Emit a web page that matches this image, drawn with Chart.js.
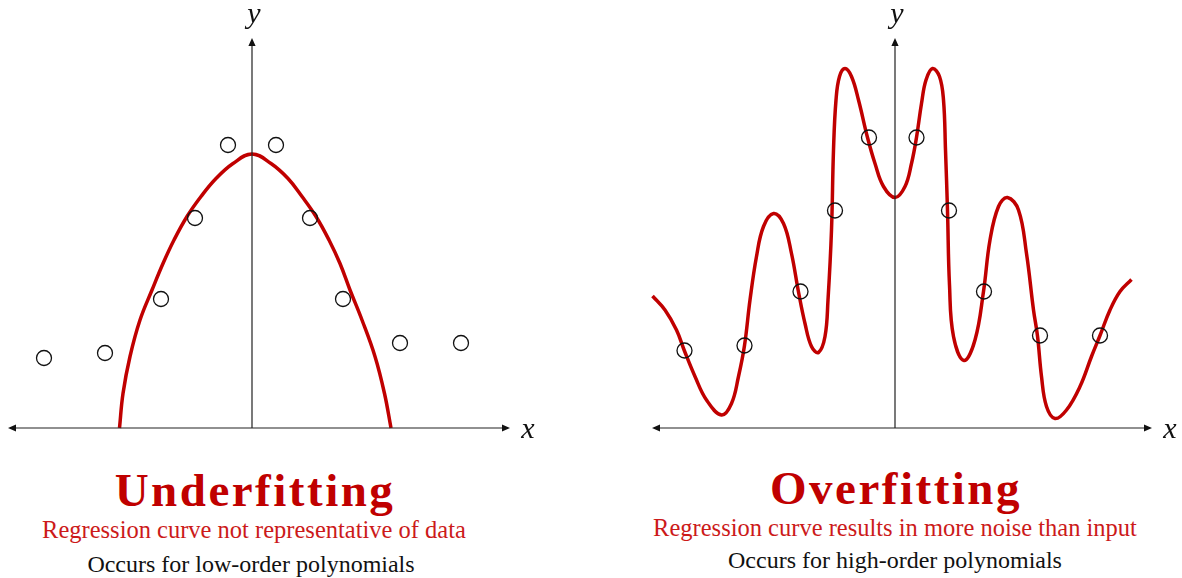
<!DOCTYPE html>
<html>
<head>
<meta charset="utf-8">
<script src="https://cdn.jsdelivr.net/npm/chart.js@4"></script>
<style>
  body { margin: 0; background: #fff; width: 1182px; height: 578px; position: relative; overflow: hidden; font-family: "Liberation Serif", serif; }
  canvas { position: absolute; top: 0; }
  #under { left: 0; }
  #over { left: 591px; }
  .t { position: absolute; transform: translateX(-50%); white-space: nowrap; line-height: 1; }
  .big { font-weight: bold; font-size: 47px; color: #c00000; letter-spacing: 2.5px; }
  .sub { font-size: 24.5px; color: #cc1a1a; }
  .note { font-size: 24px; color: #111; }
</style>
</head>
<body>
<canvas id="under" width="560" height="445"></canvas>
<canvas id="over" width="591" height="445"></canvas>

<div class="t big" style="left:255px; top:467px">Underfitting</div>
<div class="t sub" style="left:254px; top:518px">Regression curve not representative of data</div>
<div class="t note" style="left:251px; top:552px">Occurs for low-order polynomials</div>

<div class="t big" style="left:896px; top:465px">Overfitting</div>
<div class="t sub" style="left:895px; top:516px">Regression curve results in more noise than input</div>
<div class="t note" style="left:895px; top:548px">Occurs for high-order polynomials</div>

<script>
// underfitting panel: observed points and low-order fit
const underPointX = [-4.16, -2.94, -1.82, -1.14, -0.48, 0.48, 1.16, 1.82, 2.96, 4.18];
const underPointY = [1.40, 1.50, 2.58, 4.20, 5.66, 5.66, 4.20, 2.58, 1.70, 1.70];
const underCurveX = [-2.65, -2.58, -2.44, -2.24, -2.00, -1.78, -1.56, -1.30, -1.02, -0.72, -0.38, 0,
  0.38, 0.72, 1.00, 1.28, 1.54, 1.76, 1.96, 2.20, 2.46, 2.65, 2.78];
const underCurveY = [0, 0.69, 1.43, 2.16, 2.76, 3.29, 3.76, 4.23, 4.63, 4.99, 5.29, 5.48,
  5.29, 4.99, 4.63, 4.23, 3.76, 3.29, 2.76, 2.16, 1.43, 0.69, 0];

// overfitting panel: observed points and high-order fit
const overPointX = [-4.21, -3.01, -1.89, -1.20, -0.52, 0.43, 1.08, 1.78, 2.90, 4.10];
const overPointY = [1.55, 1.65, 2.73, 4.35, 5.81, 5.81, 4.35, 2.73, 1.85, 1.85];
const overCurveX = [-4.85, -4.60, -4.37, -4.21, -4.00, -3.77, -3.47, -3.27, -3.13, -3.01, -2.90, -2.77,
  -2.63, -2.43, -2.23, -2.07, -1.93, -1.80, -1.67, -1.53, -1.40, -1.34, -1.27, -1.23, -1.18, -1.11,
  -1.00, -0.87, -0.73, -0.55, -0.40, -0.23, 0, 0.20, 0.33, 0.43, 0.53, 0.62, 0.75, 0.89, 0.97,
  1.01, 1.05, 1.09, 1.17, 1.38, 1.60, 1.77, 1.90, 2.07, 2.25, 2.47, 2.63, 2.77, 2.85, 2.93,
  3.03, 3.20, 3.43, 3.70, 3.93, 4.10, 4.30, 4.50, 4.73];
const overCurveY = [2.64, 2.36, 1.96, 1.54, 1.03, 0.56, 0.26, 0.49, 1.03, 1.65, 2.56, 3.43,
  4.03, 4.29, 4.09, 3.49, 2.72, 2.09, 1.63, 1.51, 1.83, 2.56, 3.96, 5.56, 6.56, 7.03,
  7.19, 7.03, 6.56, 5.81, 5.29, 4.83, 4.61, 4.83, 5.29, 5.81, 6.49, 6.96, 7.19, 7.03, 6.56,
  5.56, 4.35, 2.86, 1.83, 1.35, 1.76, 2.73, 3.76, 4.43, 4.61, 4.36, 3.49, 2.36, 1.84, 1.03,
  0.43, 0.19, 0.36, 0.83, 1.43, 1.85, 2.36, 2.73, 2.97];

const axisLabels = ['x', 'y'];

function pairs(xs, ys) {
  return xs.map((x, i) => ({ x: x, y: ys[i] }));
}

// draws the two arrowed axes through the origin plus the x / y labels
const arrowAxes = {
  id: 'arrowAxes',
  afterDatasetsDraw(chart, args, opts) {
    const ctx = chart.ctx;
    const sx = chart.scales.x, sy = chart.scales.y;
    const ox = sx.getPixelForValue(0), oy = sy.getPixelForValue(0);
    const xl = sx.getPixelForValue(opts.xFrom), xr = sx.getPixelForValue(opts.xTo);
    const yt = sy.getPixelForValue(opts.yTo);
    const len = 8, hw = 3.6;
    ctx.save();
    ctx.strokeStyle = '#222';
    ctx.fillStyle = '#111';
    ctx.lineWidth = 1.2;
    ctx.beginPath();
    ctx.moveTo(xl + 2, oy); ctx.lineTo(xr - 2, oy);
    ctx.moveTo(ox, oy); ctx.lineTo(ox, yt + 2);
    ctx.stroke();
    ctx.beginPath();
    ctx.moveTo(xl, oy); ctx.lineTo(xl + len, oy - hw); ctx.lineTo(xl + len, oy + hw); ctx.closePath();
    ctx.moveTo(xr, oy); ctx.lineTo(xr - len, oy - hw); ctx.lineTo(xr - len, oy + hw); ctx.closePath();
    ctx.moveTo(ox, yt); ctx.lineTo(ox - hw, yt + len); ctx.lineTo(ox + hw, yt + len); ctx.closePath();
    ctx.fill();
    ctx.font = 'italic 30px "Liberation Serif", serif';
    ctx.textAlign = 'center';
    ctx.textBaseline = 'alphabetic';
    ctx.fillText(axisLabels[0], xr + 18, oy + 10);
    ctx.fillText(axisLabels[1], ox + 2, yt - 15);
    ctx.restore();
  }
};

function makePanel(id, pts, curve, xMin, xMax, axisEnds) {
  return new Chart(document.getElementById(id), {
    type: 'scatter',
    data: {
      datasets: [{
        data: pts,
        pointStyle: 'circle',
        pointRadius: 7.5,
        pointBorderWidth: 1.3,
        pointBorderColor: '#111',
        pointBackgroundColor: 'rgba(0,0,0,0)',
        showLine: false
      }, {
        data: curve,
        showLine: true,
        tension: 0.4,
        borderColor: '#c00000',
        borderWidth: 3.5,
        pointRadius: 0,
        fill: false
      }]
    },
    options: {
      responsive: false,
      animation: false,
      events: [],
      layout: { padding: 0, autoPadding: false },
      scales: {
        x: { type: 'linear', min: xMin, max: xMax, display: false },
        y: { type: 'linear', min: -0.34, max: 8.56, display: false }
      },
      plugins: {
        legend: { display: false },
        tooltip: { enabled: false },
        arrowAxes: axisEnds
      }
    },
    plugins: [arrowAxes]
  });
}

makePanel('under', pairs(underPointX, underPointY), pairs(underCurveX, underCurveY),
  -5.04, 6.16, { xFrom: -4.88, xTo: 5.16, yTo: 7.8 });
makePanel('over', pairs(overPointX, overPointY), pairs(overCurveX, overCurveY),
  -6.08, 5.74, { xFrom: -4.86, xTo: 5.14, yTo: 7.8 });
</script>
</body>
</html>
